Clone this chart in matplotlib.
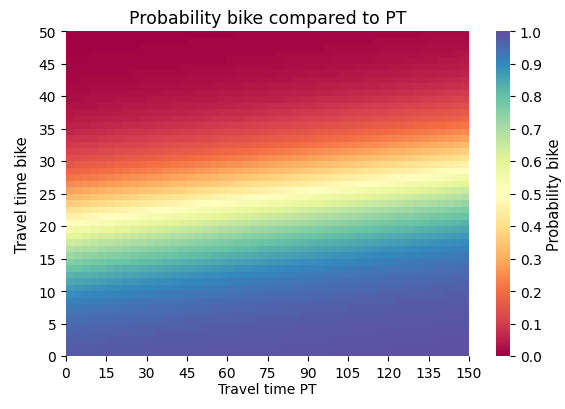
import numpy as np
import matplotlib
matplotlib.use("Agg")
import matplotlib.pyplot as plt

# Grid of travel times (minutes)
pt_times = np.arange(0, 151, 3)      # public transport cell edges
bike_times = np.arange(0, 51, 1)     # bike cell edges

# Binary logit coefficients for choosing the bike over PT
asc_bike = 3.9
beta_bike = -0.19
beta_pt = 0.0105

xticks = list(range(0, 151, 15))
yticks = list(range(0, 51, 5))
cbar_ticks = [round(0.1 * i, 1) for i in range(11)]

# Probability evaluated at each cell
pt_c = pt_times[:-1]
bike_c = bike_times[:-1] + 0.5
PT, BK = np.meshgrid(pt_c, bike_c)
utility = asc_bike + beta_bike * BK + beta_pt * PT
prob = 1.0 / (1.0 + np.exp(-utility))

fig = plt.figure(figsize=(5.65, 4.10), dpi=100)
ax = fig.add_axes([66 / 565, 1 - 357 / 410, (469 - 66) / 565, (357 - 32) / 410])
cax = fig.add_axes([496 / 565, 1 - 357 / 410, 14 / 565, (357 - 32) / 410])

mesh = ax.pcolormesh(pt_times, bike_times, prob, cmap="Spectral", vmin=0, vmax=1,
                     shading="flat", rasterized=True)
ax.set_xlim(0, 150)
ax.set_ylim(0, 50)
ax.set_xticks(xticks)
ax.set_yticks(yticks)
ax.set_xticklabels([str(t) for t in xticks])
ax.set_yticklabels([str(t) for t in yticks])
for s in ax.spines.values():
    s.set_visible(False)
ax.tick_params(labelsize=10)
ax.set_xlabel("Travel time PT", fontsize=10, labelpad=2)
ax.set_ylabel("Travel time bike", fontsize=10.5, labelpad=6)
ax.set_title("Probability bike compared to PT", fontsize=12.5)

cb = fig.colorbar(mesh, cax=cax, ticks=cbar_ticks)
cb.outline.set_visible(False)
cb.ax.tick_params(labelsize=10)
cb.set_label("Probability bike", fontsize=10.5)

fig.savefig("out.png", dpi=100)
